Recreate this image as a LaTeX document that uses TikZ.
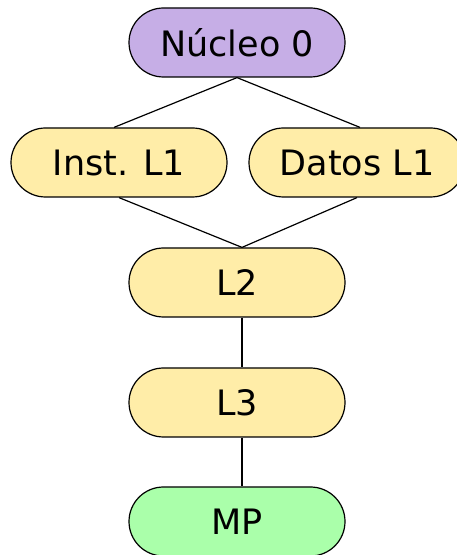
\documentclass[tikz,border=0pt]{standalone}
\usepackage{fontspec}
\setmainfont{DejaVu Sans}
\usetikzlibrary{shapes.misc}

\definecolor{nucleofill}{HTML}{C6AEE6}
\definecolor{cachefill}{HTML}{FFEDA8}
\definecolor{memfill}{HTML}{AAFFAA}

\begin{document}
\begin{tikzpicture}[
                x = 1pt, y = 1pt,
                node distance = 120pt, % distance between levels
                line width = 1.2pt % line style
            ]

            \tikzstyle{every node}=[draw = black, rounded rectangle, inner sep = 0pt,
            minimum width = 216pt, minimum height = 69pt,
            font = \fontsize{35}{42}\selectfont]
            \tikzstyle{core}=[fill = nucleofill]
            \tikzstyle{cache}=[fill = cachefill]
            \tikzstyle{memory}=[fill = memfill]

            \useasboundingbox (0,0) rectangle (456,555);

            \node (nucleo) [core] at (237,512.5) {Núcleo 0};
            \node (instL1) [cache, below of=nucleo, xshift=-118pt] {Inst. L1};
            \node (datosL1) [cache, below of=nucleo, xshift=120pt] {Datos L1};
            \node (L2) [cache, below of=instL1, xshift=118pt] {L2};
            \node (L3) [cache, below of=L2] {L3};
            \node (MP) [memory, below of=L3, yshift=1pt] {MP};

            % the L2 -- L3 -- MP links sit a little right of centre
            \coordinate (busL2) at ([xshift=5pt]L2.north);
            \path[-] (nucleo.south) edge ([xshift=-5pt]instL1.north);
            \path[-] (nucleo.south) edge ([xshift=3pt]datosL1.north);
            \path[-] (instL1.south) edge (busL2);
            \path[-] (datosL1.south) edge (busL2);
            \path[-] ([xshift=5pt]L2.south) edge ([xshift=5pt]L3.north);
            \path[-] ([xshift=5pt]L3.south) edge ([xshift=5pt]MP.north);

        \end{tikzpicture}
\end{document}
